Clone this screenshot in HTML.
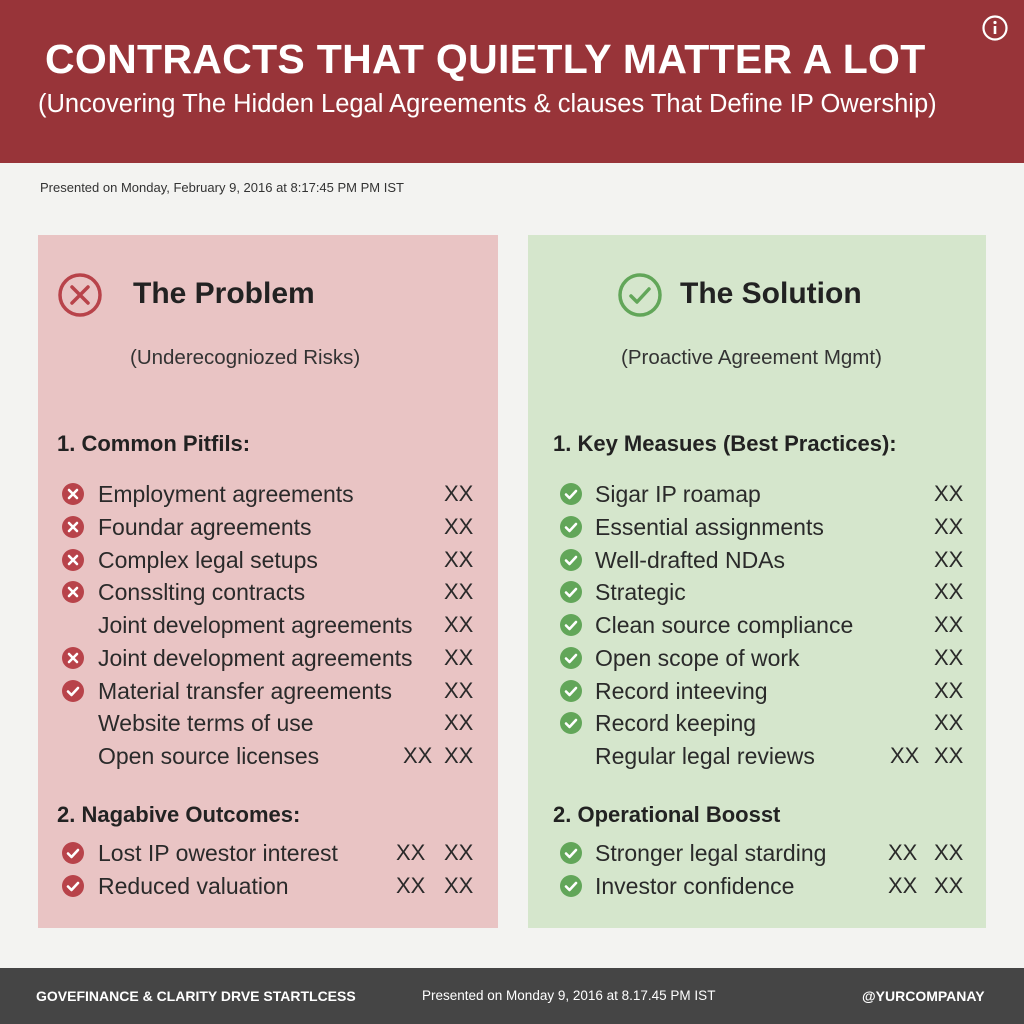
<!DOCTYPE html>
<html><head><style>
*{margin:0;padding:0;box-sizing:border-box}
body{width:1024px;height:1024px;background:#f3f3f1;font-family:"Liberation Sans",sans-serif;position:relative;overflow:hidden;color:#222}
.a{position:absolute;white-space:nowrap}
.hdr{left:0;top:0;width:1024px;height:163px;background:#983439}
.pl{left:38px;top:235px;width:460px;height:693px;background:#e9c4c4}
.pr{left:528px;top:235px;width:458px;height:693px;background:#d5e6cc}
.it{font-size:23px;color:#2a2a2a;line-height:26px}
.ic{width:22px;height:22px}
.h2{font-size:22px;font-weight:bold;color:#222}
.ft{left:0;top:968px;width:1024px;height:56px;background:#454545}
</style></head><body>
<div class="a hdr"></div>
<div class="a" style="left:45px;top:36px;font-size:41px;font-weight:bold;color:#fff;letter-spacing:0.3px">CONTRACTS THAT QUIETLY MATTER A LOT</div>
<div class="a" style="left:38px;top:90px;font-size:25.5px;color:#fff">(Uncovering The Hidden Legal Agreements &amp; clauses That Define IP Owership)</div>
<svg class="a" style="left:981px;top:14px" width="28" height="28"><circle cx="14" cy="14" r="11.5" fill="none" stroke="#fff" stroke-width="2.2"/><rect x="12.7" y="12" width="2.6" height="8" fill="#fff"/><circle cx="14" cy="8.5" r="1.6" fill="#fff"/></svg>
<div class="a" style="left:40px;top:180px;font-size:13px;color:#333">Presented on Monday, February 9, 2016 at 8:17:45 PM PM IST</div>

<div class="a pl"></div>
<div class="a pr"></div>

<svg class="a" style="left:57px;top:272px" width="46" height="46"><circle cx="23" cy="23" r="20" fill="none" stroke="#b8434a" stroke-width="3.5"/><path d="M15 15L31 31M31 15L15 31" stroke="#b8434a" stroke-width="3.5" stroke-linecap="round"/></svg>
<div class="a" style="left:133px;top:277px;font-size:30px;font-weight:bold;color:#222">The Problem</div>
<div class="a" style="left:130px;top:346px;font-size:20.5px;color:#333">(Underecogniozed Risks)</div>

<svg class="a" style="left:617px;top:272px" width="46" height="46"><circle cx="23" cy="23" r="20" fill="none" stroke="#62a659" stroke-width="3.5"/><path d="M14 24L20 30L32 17" fill="none" stroke="#62a659" stroke-width="3.5" stroke-linecap="round" stroke-linejoin="round"/></svg>
<div class="a" style="left:680px;top:277px;font-size:30px;font-weight:bold;color:#222">The Solution</div>
<div class="a" style="left:621px;top:346px;font-size:20.5px;color:#333">(Proactive Agreement Mgmt)</div>

<div class="a h2" style="left:57px;top:431px">1. Common Pitfils:</div>
<div class="a h2" style="left:553px;top:431px">1. Key Measues (Best Practices):</div>
<div class="a h2" style="left:57px;top:802px">2. Nagabive Outcomes:</div>
<div class="a h2" style="left:553px;top:802px">2. Operational Boosst</div>

<div id="L"></div>
<script>
function X(x,y){return '<svg class="a ic" style="left:'+x+'px;top:'+(y-11)+'px" viewBox="0 0 22 22"><circle cx="11" cy="11" r="11" fill="#b8434a"/><path d="M7 7L15 15M15 7L7 15" stroke="#fff" stroke-width="2.6" stroke-linecap="round"/></svg>'}
function C(x,y,c){return '<svg class="a ic" style="left:'+x+'px;top:'+(y-11)+'px" viewBox="0 0 22 22"><circle cx="11" cy="11" r="11" fill="'+c+'"/><path d="M6 11.5L9.5 15L16 8" fill="none" stroke="#fff" stroke-width="2.6" stroke-linecap="round" stroke-linejoin="round"/></svg>'}
function T(x,y,t){return '<div class="a it" style="left:'+x+'px;top:'+(y-13)+'px">'+t+'</div>'}
function XX(x,y){return '<div class="a" style="left:'+x+'px;top:'+(y-13)+'px;font-size:22px;line-height:26px;color:#2a2a2a">XX</div>'}
var h='';
var L=[['x','Employment agreements',0],['x','Foundar agreements',0],['x','Complex legal setups',0],['x','Consslting contracts',0],['','Joint development agreements',0],['x','Joint development agreements',0],['c','Material transfer agreements',0],['','Website terms of use',0],['','Open source licenses',1]];
var ys=[494,527,560,592,625,658,691,723,756];
L.forEach(function(r,i){var y=ys[i];if(r[0]=='x')h+=X(62,y);if(r[0]=='c')h+=C(62,y,'#b8434a');h+=T(98,y,r[1])+XX(444,y);if(r[2])h+=XX(403,y);});
[['Lost IP owestor interest'],['Reduced valuation']].forEach(function(r,i){var y=[853,886][i];h+=C(62,y,'#b8434a')+T(98,y,r[0])+XX(444,y)+XX(396,y);});
var R=['Sigar IP roamap','Essential assignments','Well-drafted NDAs','Strategic','Clean source compliance','Open scope of work','Record inteeving','Record keeping','Regular legal reviews'];
R.forEach(function(t,i){var y=ys[i];if(i<8)h+=C(560,y,'#62a659');h+=T(595,y,t)+XX(934,y);if(i==8)h+=XX(890,y);});
['Stronger legal starding','Investor confidence'].forEach(function(t,i){var y=[853,886][i];h+=C(560,y,'#62a659')+T(595,y,t)+XX(934,y)+XX(888,y);});
document.getElementById('L').outerHTML=h;
</script>

<div class="a ft"></div>
<div class="a" style="left:36px;top:988px;font-size:14px;font-weight:bold;color:#fff">GOVEFINANCE &amp; CLARITY DRVE STARTLCESS</div>
<div class="a" style="left:422px;top:988px;font-size:13.5px;color:#fff">Presented on Monday 9, 2016 at 8.17.45 PM IST</div>
<div class="a" style="left:862px;top:988px;font-size:14px;font-weight:bold;color:#fff">@YURCOMPANAY</div>
</body></html>
